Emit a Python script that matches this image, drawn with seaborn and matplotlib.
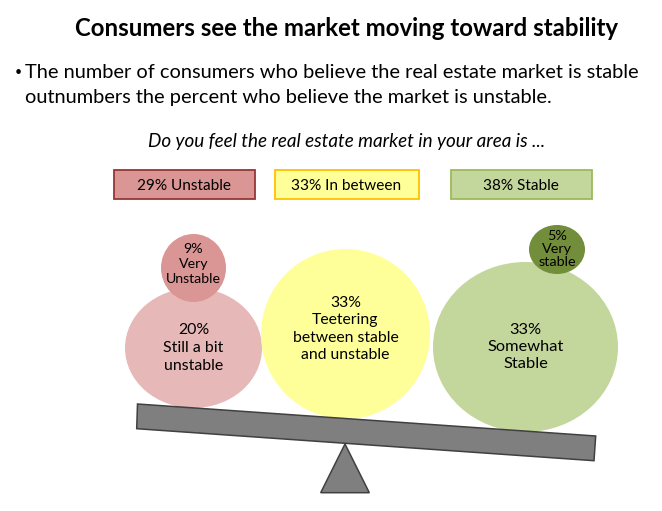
import matplotlib
matplotlib.use("Agg")
import matplotlib.pyplot as plt
from matplotlib.patches import Ellipse, Polygon, Rectangle
import seaborn as sns

# ---- content ----
title = "Consumers see the market moving toward stability"
bullet_lines = ["The number of consumers who believe the real estate market is stable",
                "outnumbers the percent who believe the market is unstable."]
question = "Do you feel the real estate market in your area is ..."
summary_labels = ["Unstable", "In between", "Stable"]
summary_values = [29, 33, 38]
bubble_values = [20, 9, 33, 33, 5]
bubble_labels = ["Still a bit\nunstable", "Very\nUnstable",
                 "Teetering\nbetween stable\nand unstable", "Somewhat\nStable", "Very\nstable"]

# ---- layout and style (pixel coordinates of the 662x511 canvas) ----
box_x = [(113.5, 254.5), (274.5, 418.5), (450.5, 591.5)]
box_y = (170.5, 199.5)
box_face = ["#D99694", "#FFFF99", "#C3D69B"]
box_edge = ["#953735", "#FFC000", "#9BBB59"]
bubble_xy = [(193.5, 348), (193.5, 268), (345.5, 334), (525.5, 347), (557, 249.5)]
bubble_wh = [(137, 120), (65, 68), (169, 170), (185, 170), (56, 49)]
bubble_face = ["#E6B8B7", "#D99694", "#FFFF99", "#C3D69B", "#738E3A"]
bubble_fs = [11.4, 10.2, 11.3, 11.8, 10.4]
bubble_text_y = [348, 264, 329, 347, 249]
bubble_ls = [1.33, 1.27, 1.33, 1.27, 1.12]
beam = [(137.5, 404), (595.7, 436), (594, 460.7), (136.7, 428.7)]
pivot = [(345, 444), (320.7, 492.7), (369.3, 492.7)]

sns.set_theme(style="white")
plt.rcParams["font.family"] = ["Lato", "DejaVu Sans"]

fig, ax = plt.subplots(figsize=(6.62, 5.11), dpi=100)
ax.set_position([0, 0, 1, 1])
ax.set_xlim(0, 662)
ax.set_ylim(511, 0)
ax.axis("off")

ax.text(346.5, 29, title, ha="center", va="center", fontsize=17.3, fontweight="bold", color="black")
ax.text(15, 72, "•", ha="left", va="center", fontsize=9, color="black")
ax.text(25, 72, bullet_lines[0], ha="left", va="center", fontsize=14.42, color="black")
ax.text(25, 97, bullet_lines[1], ha="left", va="center", fontsize=14.42, color="black")
ax.text(346.5, 141, question, ha="center", va="center", fontsize=13.6, style="italic", color="black")

for lab, val, (x0, x1), fc, ec in zip(summary_labels, summary_values, box_x, box_face, box_edge):
    ax.add_patch(Rectangle((x0, box_y[0]), x1 - x0, box_y[1] - box_y[0], facecolor=fc, edgecolor=ec, linewidth=1.3))
    ax.text((x0 + x1) / 2, 185.5, f"{val}% {lab}", ha="center", va="center", fontsize=11.1, color="black")

for (cx, cy), (w, h), fc in zip(bubble_xy, bubble_wh, bubble_face):
    ax.add_patch(Ellipse((cx, cy), w, h, facecolor=fc, edgecolor="none"))

for val, lab, (cx, _), ty, fs, ls in zip(bubble_values, bubble_labels, bubble_xy, bubble_text_y, bubble_fs, bubble_ls):
    ax.text(cx, ty, f"{val}%\n{lab}", ha="center", va="center", fontsize=fs, color="black",
            linespacing=ls, multialignment="center")

ax.add_patch(Polygon(beam, closed=True, facecolor="#7F7F7F", edgecolor="#404040", linewidth=1.1))
ax.add_patch(Polygon(pivot, closed=True, facecolor="#7F7F7F", edgecolor="#404040", linewidth=1.1))

sns.despine(ax=ax, left=True, bottom=True)
fig.savefig("out.png", dpi=100, facecolor="white")
